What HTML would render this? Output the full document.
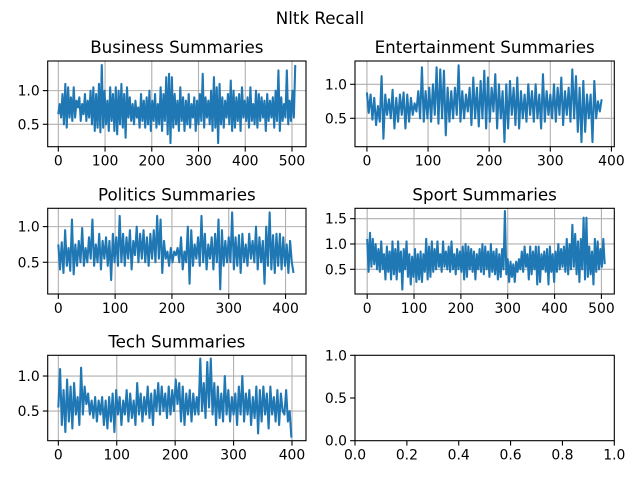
<!DOCTYPE html>
<html><head><meta charset="utf-8"><style>
html,body{margin:0;padding:0;background:#fff}
svg text{font-family:"DejaVu Sans","Liberation Sans",sans-serif;fill:#000}
</style></head><body>
<svg id="fig" width="640" height="480" viewBox="0 0 640 480" xmlns="http://www.w3.org/2000/svg">
<rect width="640" height="480" fill="#fff"/>
<text x="320" y="24" text-anchor="middle" font-size="16.7">Nltk Recall</text>
</svg>
<script>
const businessValues=[0.65,0.8,0.6,0.95,0.5,1.1,0.45,1.05,0.6,0.9,
0.55,1.05,0.6,0.85,0.75,0.9,0.55,0.8,0.65,0.95,
0.55,0.85,0.6,1.0,0.5,1.05,0.4,0.95,0.45,1.1,
0.38,1.38,0.45,1.0,0.5,0.85,0.4,1.05,0.55,0.95,
0.4,1.05,0.35,1.0,0.5,1.1,0.45,0.95,0.3,1.05,
0.6,0.9,0.55,0.8,0.5,0.85,0.6,0.75,0.45,0.95,
0.55,0.85,0.45,0.9,0.5,1.0,0.4,0.85,0.55,0.95,
0.45,0.8,0.5,1.05,0.4,0.95,0.55,1.2,0.35,1.25,
0.22,1.2,0.45,0.95,0.5,0.85,0.4,1.05,0.55,0.9,
0.4,0.85,0.5,0.95,0.45,0.8,0.6,0.9,0.4,0.85,
0.5,0.95,0.55,1.25,0.45,0.9,0.6,0.85,0.5,1.0,
0.4,1.2,0.45,1.05,0.22,1.1,0.5,0.9,0.45,0.85,
0.6,0.95,0.5,1.15,0.4,1.0,0.45,0.9,0.55,0.95,
0.4,1.05,0.6,0.85,0.55,0.9,0.45,1.05,0.55,0.8,
0.5,1.0,0.45,0.95,0.55,0.9,0.6,0.85,0.4,0.95,
0.55,0.85,0.6,0.9,0.45,1.0,0.55,1.3,0.4,0.9,
0.55,0.8,0.6,1.3,0.5,0.85,0.55,1.0,0.6,1.38];
const entertainmentValues=[0.88,0.58,0.85,0.48,0.8,0.4,0.68,0.45,1.12,0.2,
0.85,0.55,0.78,0.5,0.92,0.35,0.8,0.45,0.85,0.55,
0.88,0.35,0.85,0.45,0.8,0.55,0.72,0.6,0.9,0.5,
1.25,0.45,0.9,0.5,0.95,0.45,1.0,0.55,1.25,0.42,
1.22,0.5,1.2,0.25,0.95,0.45,0.9,0.5,0.95,0.55,
1.28,0.45,0.9,0.5,0.85,0.6,0.95,0.4,1.1,0.5,
0.95,0.38,1.05,0.5,1.2,0.35,1.1,0.45,0.95,0.6,
1.15,0.35,1.0,0.5,0.9,0.15,1.0,0.35,1.05,0.55,
0.95,0.4,1.1,0.35,0.9,0.5,0.85,0.45,1.0,0.55,
0.9,0.45,1.0,0.5,0.85,0.35,1.15,0.45,0.9,0.55,
0.85,0.5,1.0,0.45,0.95,0.55,1.1,0.4,0.9,0.55,
0.95,0.45,1.22,0.5,1.12,0.3,0.95,0.15,1.05,0.3,
0.85,0.5,0.85,0.15,1.05,0.5,0.75,0.6,0.78];
const politicsValues=[0.75,0.4,0.78,0.35,0.95,0.45,0.7,0.38,1.1,0.33,
0.75,0.45,0.8,0.5,0.98,0.45,0.7,0.5,0.85,0.55,
1.1,0.45,0.75,0.5,0.9,0.4,0.8,0.55,0.85,0.45,
0.8,0.25,0.9,0.5,0.85,0.45,1.15,0.5,0.9,0.45,
0.85,0.55,0.95,0.4,0.8,0.6,1.0,0.5,0.9,0.55,
0.95,0.5,0.85,0.45,0.9,0.55,0.95,0.5,1.15,0.55,
1.1,0.35,0.8,0.55,0.65,0.45,0.7,0.5,0.65,0.6,
0.7,0.5,0.85,0.4,0.65,0.5,1.0,0.2,0.95,0.45,
0.75,0.55,0.85,0.45,1.15,0.5,0.9,0.4,0.75,0.55,
0.85,0.4,0.9,0.5,1.1,0.12,0.95,0.45,0.8,0.5,
0.85,0.5,1.2,0.4,0.85,0.45,0.88,0.35,0.9,0.5,
0.75,0.45,0.9,0.55,0.8,0.5,1.0,0.4,0.85,0.5,
0.8,0.2,1.0,0.45,1.2,0.4,0.88,0.35,0.9,0.45,
0.9,0.4,0.85,0.45,0.75,0.35,0.8,0.5,0.35];
const sportValues=[1.1,0.45,1.22,0.55,1.1,0.6,1.0,0.5,0.9,0.45,
1.05,0.5,0.8,0.3,0.95,0.45,0.85,0.3,1.05,0.4,
0.9,0.3,1.05,0.45,0.85,0.1,0.9,0.5,1.05,0.35,
0.8,0.2,0.75,0.35,0.9,0.25,0.8,0.3,0.85,0.25,
0.8,0.45,1.1,0.3,0.95,0.35,1.05,0.45,0.9,0.5,
1.05,0.55,0.8,0.45,1.05,0.55,0.85,0.5,0.95,0.45,
1.05,0.5,0.8,0.4,0.9,0.5,0.85,0.45,0.95,0.3,
1.0,0.35,0.95,0.5,0.9,0.45,0.85,0.3,0.8,0.5,
0.9,0.45,1.0,0.4,0.95,0.5,0.85,0.35,1.0,0.45,
0.85,0.4,0.9,0.3,0.8,0.35,0.9,0.5,1.65,0.4,
0.7,0.25,0.65,0.35,0.6,0.25,0.65,0.45,0.7,0.5,
0.85,0.45,0.95,0.55,0.8,0.3,0.95,0.4,0.85,0.5,
0.95,0.2,0.95,0.25,0.8,0.5,0.85,0.45,0.9,0.2,
0.95,0.45,0.8,0.25,0.85,0.45,1.0,0.5,0.9,0.55,
0.95,0.45,1.1,0.4,1.0,0.5,1.38,0.55,1.2,0.4,
1.05,0.25,1.1,0.5,1.52,0.3,1.52,0.35,0.95,0.4,
0.85,0.2,1.1,0.45,1.05,0.5,0.9,0.55,1.1,0.6];
const techValues=[0.55,1.1,0.3,0.8,0.2,0.95,0.35,0.85,0.25,0.9,
0.45,0.7,0.3,1.12,0.45,0.85,0.6,0.75,0.45,0.65,
0.4,0.7,0.35,0.65,0.45,0.7,0.3,0.65,0.25,0.7,
0.35,0.75,0.2,0.8,0.45,0.7,0.3,0.65,0.45,0.8,
0.35,0.75,0.4,0.65,0.3,0.9,0.45,0.75,0.35,0.7,
0.45,0.85,0.4,0.75,0.3,0.8,0.5,0.9,0.45,0.85,
0.5,0.75,0.4,0.85,0.45,0.8,0.5,0.95,0.6,0.9,
0.35,0.85,0.3,0.75,0.45,0.8,0.35,0.75,0.45,0.7,
0.45,1.25,0.5,0.9,0.4,1.2,0.55,1.25,0.45,0.9,
0.3,0.85,0.4,0.75,0.35,1.0,0.45,0.8,0.35,0.7,
0.45,0.75,0.3,0.85,0.45,1.0,0.35,0.75,0.45,0.8,
0.3,0.7,0.4,0.85,0.18,0.8,0.35,0.85,0.45,0.75,
0.25,0.85,0.45,0.7,0.35,0.8,0.3,0.75,0.5,0.45,
0.8,0.35,0.5,0.12];
const businessXTicks=[0,100,200,300,400,500];
const entertainmentXTicks=[0,100,200,300,400];
const politicsXTicks=[0,100,200,300,400];
const sportXTicks=[0,100,200,300,400,500];
const techXTicks=[0,100,200,300,400];
const businessYTicks=[0.5,1.0];
const entertainmentYTicks=[0.5,1.0];
const politicsYTicks=[0.5,1.0];
const sportYTicks=[0.5,1.0,1.5];
const techYTicks=[0.5,1.0];
const emptyTicks=[0,0.2,0.4,0.6,0.8,1.0];
const emptyYTicks=[0,0.5,1.0];
const NS="http://www.w3.org/2000/svg";
const svg=document.getElementById('fig');
function mk(tag,attrs,parent){const e=document.createElementNS(NS,tag);for(const k in attrs)e.setAttribute(k,attrs[k]);(parent||svg).appendChild(e);return e;}
function fmt(v,d){return v.toFixed(d);}
function panel(name,title,L,T,R,B,xmin,xmax,ymin,ymax,xt,yt,vals,step,xd,yd){
  const g=mk('g',{});
  
  
  const sx=v=>L+(v-xmin)/(xmax-xmin)*(R-L);
  const sy=v=>B-(v-ymin)/(ymax-ymin)*(B-T);
  if(vals){
    xt.forEach(v=>{const l=mk('line',{x1:sx(v),x2:sx(v),y1:T,y2:B,stroke:'#b0b0b0','stroke-width':1.1},g);
      
      });
    yt.forEach(v=>{const l=mk('line',{x1:L,x2:R,y1:sy(v),y2:sy(v),stroke:'#b0b0b0','stroke-width':1.1},g);
      
      });
    const pts=vals.map((v,i)=>sx(i*step).toFixed(2)+','+sy(v).toFixed(2)).join(' ');
    const p=mk('polyline',{points:pts,fill:'none',stroke:'#1f77b4','stroke-width':2.08,'stroke-linejoin':'round'},g);
    
    
  }
  const fr=mk('rect',{x:L,y:T,width:R-L,height:B-T,fill:'none',stroke:'#000','stroke-width':1.1},g);
  
  
  xt.forEach(v=>{mk('line',{x1:sx(v),x2:sx(v),y1:B,y2:B+4.9,stroke:'#000','stroke-width':1.1},g);
    const t=mk('text',{x:sx(v),y:B+19,'text-anchor':'middle','font-size':13.9},g);t.textContent=fmt(v,xd);
    
    });
  yt.forEach(v=>{mk('line',{x1:L-4.9,x2:L,y1:sy(v),y2:sy(v),stroke:'#000','stroke-width':1.1},g);
    const t=mk('text',{x:L-8,y:sy(v)+5,'text-anchor':'end','font-size':13.9},g);t.textContent=fmt(v,yd);
    
    });
  if(title){const t=mk('text',{x:(L+R)/2,y:T-8,'text-anchor':'middle','font-size':16.7},g);t.textContent=title;
    
    }
}
panel('business','Business Summaries',47.7,61,306,146.7,-22.7,530,0.167,1.44,businessXTicks,businessYTicks,businessValues,3,0,1);
panel('entertainment','Entertainment Summaries',355,61,614.3,146.7,-19.5,404.7,0.082,1.343,entertainmentXTicks,entertainmentYTicks,entertainmentValues,3,0,1);
panel('politics','Politics Summaries',47.7,208.3,306,294,-18.7,436,0.055,1.257,politicsXTicks,politicsYTicks,politicsValues,3,0,1);
panel('sport','Sport Summaries',355,208.3,614.3,294,-26,527.5,0.012,1.705,sportXTicks,sportYTicks,sportValues,3,0,1);
panel('tech','Tech Summaries',47.7,355.3,306,440.7,-18.2,424,0.076,1.296,techXTicks,techYTicks,techValues,3,0,1);
panel('empty','',355,355.3,614.3,440.7,0,1,0,1,emptyTicks,emptyYTicks,null,1,1,1);
</script>
</body></html>
